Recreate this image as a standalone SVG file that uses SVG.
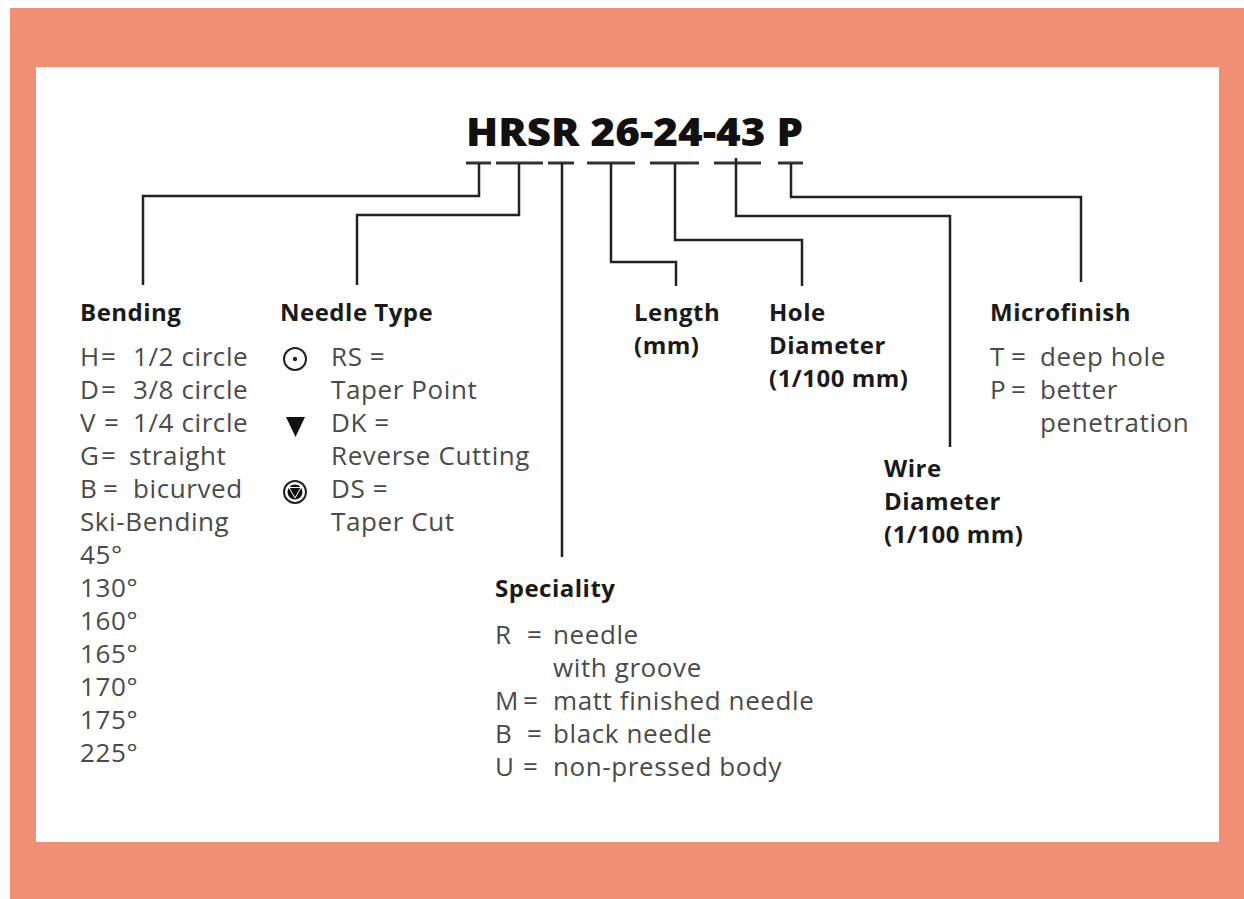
<svg xmlns="http://www.w3.org/2000/svg" width="1244" height="899" viewBox="0 0 1244 899">
<style>
.h{font-family:"Open Sans","Noto Sans",sans-serif;font-weight:bold;font-size:24px;letter-spacing:0.5px;fill:#1a1a1a}
.b{font-family:"Open Sans","Noto Sans",sans-serif;font-size:26px;letter-spacing:0.6px;fill:#4a4a4a}
.t{font-family:"Open Sans","Noto Sans",sans-serif;font-weight:800;font-size:39px;fill:#111}
.c{fill:none;stroke:#222;stroke-width:2.5}
.u{fill:none;stroke:#333;stroke-width:3}
</style>
<rect x="10" y="8" width="1234" height="891" fill="#F08F76"/>
<rect x="36" y="67" width="1183" height="775" fill="#ffffff"/>
<g id="title">
<text class="t" x="466" y="146" textLength="337" lengthAdjust="spacingAndGlyphs">HRSR 26-24-43 P</text>
<path class="u" d="M466 163H491M496 163H543M548 163H574M587 163H635M650 163H699M714 163H761M778 163H803"/>
</g>
<g id="connectors">
<path class="c" d="M479 163V196H143V285"/>
<path class="c" d="M519 163V215H357V285"/>
<path class="c" d="M562 163V557"/>
<path class="c" d="M611 163V262H676V286"/>
<path class="c" d="M675 163V240H802V286"/>
<path class="c" d="M736 158V216H950V447"/>
<path class="c" d="M791 163V197H1081V282"/>
</g>
<g id="bending">
<text class="h" x="80" y="321">Bending</text>
<text class="b" x="80" y="366">H</text><text class="b" x="101" y="366">=</text><text class="b" x="133" y="366">1/2 circle</text>
<text class="b" x="80" y="399">D</text><text class="b" x="101" y="399">=</text><text class="b" x="133" y="399">3/8 circle</text>
<text class="b" x="80" y="432">V</text><text class="b" x="104" y="432">=</text><text class="b" x="133" y="432">1/4 circle</text>
<text class="b" x="80" y="465">G</text><text class="b" x="101" y="465">=</text><text class="b" x="129" y="465">straight</text>
<text class="b" x="80" y="498">B</text><text class="b" x="103" y="498">=</text><text class="b" x="133" y="498">bicurved</text>
<text class="b" x="80" y="531">Ski-Bending</text>
<text class="b" x="80" y="564">45°</text>
<text class="b" x="80" y="597">130°</text>
<text class="b" x="80" y="630">160°</text>
<text class="b" x="80" y="663">165°</text>
<text class="b" x="80" y="696">170°</text>
<text class="b" x="80" y="729">175°</text>
<text class="b" x="80" y="762">225°</text>
</g>
<g id="needle-type">
<text class="h" x="280" y="321">Needle Type</text>
<circle cx="295" cy="359" r="11" fill="none" stroke="#222" stroke-width="2"/>
<circle cx="295" cy="359" r="2.2" fill="#222"/>
<text class="b" x="331" y="366">RS =</text>
<text class="b" x="331" y="399">Taper Point</text>
<polygon points="286,417 305,417 295.5,437" fill="#111"/>
<text class="b" x="331" y="432">DK =</text>
<text class="b" x="331" y="465">Reverse Cutting</text>
<circle cx="295" cy="492" r="11" fill="none" stroke="#222" stroke-width="2"/>
<circle cx="295" cy="492" r="7.5" fill="#111"/>
<polygon points="289,487.5 301,487.5 295,498" fill="none" stroke="#fff" stroke-width="1"/>
<text class="b" x="331" y="498">DS =</text>
<text class="b" x="331" y="531">Taper Cut</text>
</g>
<g id="speciality">
<text class="h" x="495" y="597">Speciality</text>
<text class="b" x="495" y="644">R</text><text class="b" x="527" y="644">=</text><text class="b" x="553" y="644">needle</text>
<text class="b" x="553" y="677">with groove</text>
<text class="b" x="495" y="710">M</text><text class="b" x="523" y="710">=</text><text class="b" x="553" y="710">matt finished needle</text>
<text class="b" x="495" y="743">B</text><text class="b" x="527" y="743">=</text><text class="b" x="553" y="743">black needle</text>
<text class="b" x="495" y="776">U</text><text class="b" x="523" y="776">=</text><text class="b" x="553" y="776">non-pressed body</text>
</g>
<g id="length">
<text class="h" x="634" y="321">Length</text>
<text class="h" x="634" y="354">(mm)</text>
</g>
<g id="hole-diameter">
<text class="h" x="769" y="321">Hole</text>
<text class="h" x="769" y="354">Diameter</text>
<text class="h" x="769" y="387">(1/100 mm)</text>
</g>
<g id="wire-diameter">
<text class="h" x="884" y="477">Wire</text>
<text class="h" x="884" y="510">Diameter</text>
<text class="h" x="884" y="543">(1/100 mm)</text>
</g>
<g id="microfinish">
<text class="h" x="990" y="321">Microfinish</text>
<text class="b" x="990" y="366">T</text><text class="b" x="1011" y="366">=</text><text class="b" x="1040" y="366">deep hole</text>
<text class="b" x="990" y="399">P</text><text class="b" x="1011" y="399">=</text><text class="b" x="1040" y="399">better</text>
<text class="b" x="1040" y="432">penetration</text>
</g>
</svg>
